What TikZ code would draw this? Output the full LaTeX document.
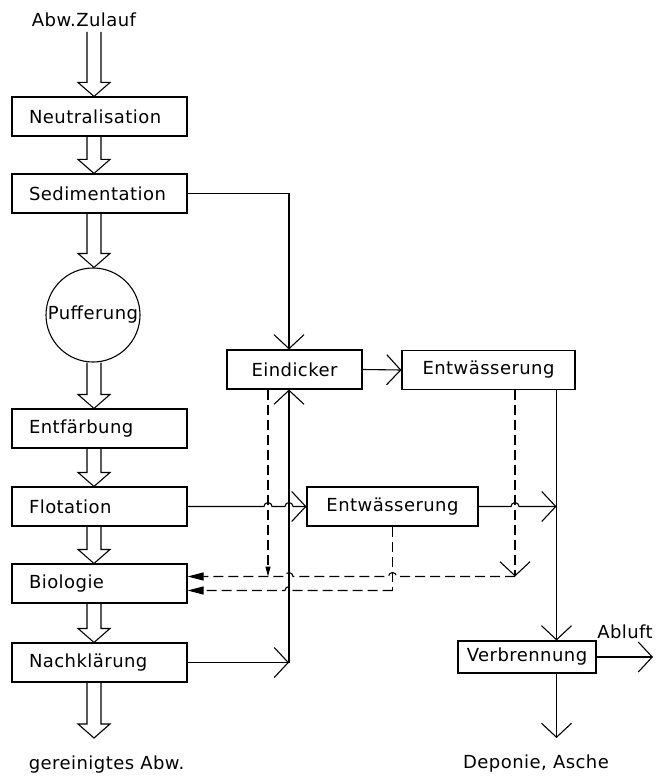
\documentclass[tikz,border=0pt]{standalone}
\usepackage{fontspec}
\setmainfont{DejaVu Sans}[LetterSpace=2.5]
\usetikzlibrary{arrows.meta,calc}
\tikzset{
  ln/.style={line width=1.1pt},
  txt/.style={font=\fontsize{18}{20}\selectfont},
  lbox/.style={draw, ln, txt, minimum height=39pt, text width=141pt, inner xsep=17pt, inner ysep=0pt, align=left},
  rbox/.style={draw, ln, txt, minimum height=39pt, inner sep=0pt, align=center},
  lbl/.style={txt, inner sep=0pt},
  barb/.style={-{Straight Barb[length=14pt,width=30pt]}},
  farrow/.style={-{Triangle[length=16pt,width=8pt]}},
  dsh/.style={ln, dash pattern=on 10pt off 5pt}
}
\newcommand\HollowArr[2]{%
  \draw[ln] let \p1=(#1), \p2=(#2), \p3=(axis) in
    (\x3-7pt,\y1) -- (\x3-7pt,\y2+14pt) -- (\x3-16pt,\y2+14pt) -- (\x3,\y2)
    -- (\x3+16pt,\y2+14pt) -- (\x3+7pt,\y2+14pt) -- (\x3+7pt,\y1);}
\begin{document}
\begin{tikzpicture}[x=1pt,y=-1pt]
\useasboundingbox (0,0) rectangle (656,778);
% reference coordinates
\coordinate (axis) at (94,0);
\coordinate (ax) at (289,0);
\coordinate (dv) at (268,0);
\coordinate (dr) at (515,0);
\coordinate (rx) at (556.5,0);
\coordinate (up) at (0,576.5);
\coordinate (lo) at (0,590.5);
% left column
\node[lbl] (zul) at (84,20) {Abw.Zulauf};
\coordinate (zultop) at (94,32);
\node[lbox] (neu) at (99.5,116.5) {Neutralisation};
\node[lbox] (sed) at (99.5,193.5) {Sedimentation};
\node[draw, ln, txt, circle, minimum size=94pt, inner sep=0pt] (puf) at (93,315) {Pufferung};
\node[lbox] (entf) at (99.5,428.5) {Entfärbung};
\node[lbox] (flot) at (99.5,506.5) {Flotation};
\node[lbox] (bio) at (99.5,583.5) {Biologie};
\node[lbox] (nach) at (99.5,662.5) {Nachklärung};
\coordinate (gend) at (94,738);
\node[lbl] (ger) at (106.5,765) {gereinigtes Abw.};
% right part
\node[rbox, minimum width=135pt] (eind) at (294.5,369.5) {Eindicker};
\node[rbox, minimum width=173pt] (ew1) at (488.5,370) {Entwässerung};
\node[rbox, minimum width=171pt] (ew2) at (392.5,506.5) {Entwässerung};
\node[rbox, minimum width=138pt, minimum height=32pt] (verb) at (527,657) {Verbrennung};
\node[lbl] (abl) at (625,632) {Abluft};
\coordinate (ablend) at (653,657);
\coordinate (depend) at (556.5,738);
\node[lbl] (dep) at (536,764) {Deponie, Asche};
% hollow arrows
\HollowArr{zultop}{neu.north}
\HollowArr{neu.south}{sed.north}
\HollowArr{sed.south}{puf.north}
\HollowArr{puf.south}{entf.north}
\HollowArr{entf.south}{flot.north}
\HollowArr{flot.south}{bio.north}
\HollowArr{bio.south}{nach.north}
\HollowArr{nach.south}{gend}
% solid connectors
\draw[ln, barb] (sed.east) -- (ax |- sed.east) -- (ax |- eind.north);
\draw[ln, barb] (eind.east) -- (ew1.west);
\draw[ln, barb] (nach.east) -- (ax |- nach.east);
\draw[ln, barb] (ax |- nach.east) -- (ax |- eind.south);
\draw[ln, barb] (flot.east) -- ($(dv |- flot.east)+(-4,0)$) arc[start angle=180,end angle=360,radius=4]
  -- ($(ax |- flot.east)+(-4,0)$) arc[start angle=180,end angle=360,radius=4] -- (ew2.west);
\draw[ln, barb] (ew2.east) -- ($(dr |- ew2.east)+(-4,0)$) arc[start angle=180,end angle=360,radius=4]
  -- (rx |- ew2.east);
\draw[ln, barb] (rx |- ew1.south) -- (rx |- verb.north);
\draw[ln, barb] (verb.east) -- (ablend);
\draw[ln, barb] (rx |- verb.south) -- (depend);
% dashed connectors
\draw[dsh, barb] (dr |- ew1.south) -- (dr |- up);
\draw[dsh, farrow] (dr |- up) -- ($(ew2.south |- up)+(4,0)$) arc[start angle=0,end angle=-180,radius=4]
  -- ($(ax |- up)+(4,0)$) arc[start angle=0,end angle=-180,radius=4] -- (bio.east |- up);
\draw[dsh] (ew2.south) -- (ew2.south |- lo);
\draw[dsh, farrow] (ew2.south |- lo) -- ($(ax |- lo)+(4,0)$) arc[start angle=0,end angle=-180,radius=4] -- (bio.east |- lo);
\draw[dsh, -{Triangle[length=10pt,width=5pt]}] (dv |- eind.south) -- (dv |- up);
\end{tikzpicture}
\end{document}
